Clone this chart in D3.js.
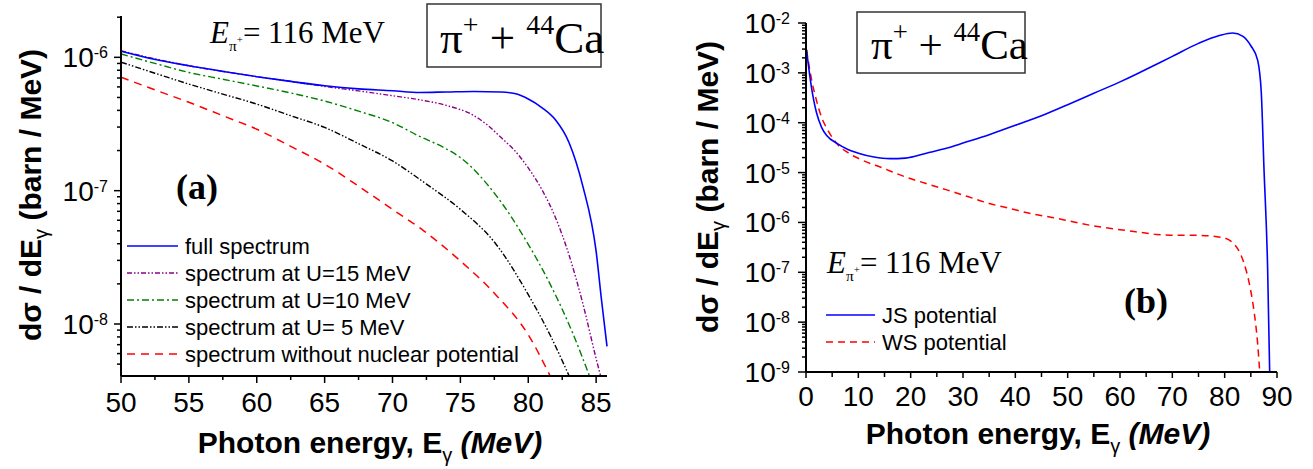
<!DOCTYPE html>
<html><head><meta charset="utf-8">
<script src="https://cdn.jsdelivr.net/npm/d3@7"></script>
<style>body{margin:0;background:#fff}svg{display:block}</style>
</head><body>
<svg id="c" width="1313" height="469"></svg>
<script>
// ---------- DATA (panel a) ----------
const fullE   = [50,52,55,57.5,60,62.5,65,67.5,70,72,74,76,78,79,80,81,82,83,84,85,85.4,85.8];
const fullV   = [1.11e-6,9.9e-7,8.65e-7,7.85e-7,7.16e-7,6.6e-7,6.12e-7,5.8e-7,5.62e-7,5.45e-7,5.5e-7,5.55e-7,5.5e-7,5.35e-7,4.87e-7,4.2e-7,3.4e-7,2.3e-7,1.1e-7,3.5e-8,1.5e-8,6.8e-9];
const u15E    = [50,52,55,57.5,60,62.5,65,67.5,70,72,74,76,77,78,79,80,81,82,83,84,85,85.35];
const u15V    = [1.12e-6,1.0e-6,8.65e-7,7.85e-7,7.16e-7,6.6e-7,6.05e-7,5.6e-7,5.15e-7,4.8e-7,4.35e-7,3.65e-7,3.1e-7,2.5e-7,2.0e-7,1.48e-7,1.02e-7,6.3e-8,3.3e-8,1.45e-8,5.5e-9,4.0e-9];
const u10E    = [50,52.5,55,57.5,60,62.5,65,67.5,70,72,73.8,75,77.6,80,81.6,83.2,84.5];
const u10V    = [1.06e-6,9.0e-7,7.7e-7,6.85e-7,6.1e-7,5.4e-7,4.7e-7,3.95e-7,3.24e-7,2.55e-7,2.1e-7,1.77e-7,9.3e-8,3.96e-8,2.0e-8,8.9e-9,4.1e-9];
const u5E     = [50,52.5,55,57.5,60,62.5,65,67.5,70,72.5,75,77.6,80,81.6,83.0];
const u5V     = [9.2e-7,7.6e-7,6.3e-7,5.3e-7,4.46e-7,3.65e-7,2.98e-7,2.25e-7,1.67e-7,1.12e-7,7.24e-8,4.0e-8,1.66e-8,8.3e-9,4.1e-9];
const noPotE  = [50,52.5,55,57.5,60,62.5,65,67.5,70,72.3,75,77.6,80,81.6];
const noPotV  = [7.1e-7,5.7e-7,4.6e-7,3.65e-7,2.89e-7,2.15e-7,1.58e-7,1.08e-7,7.24e-8,5.0e-8,2.97e-8,1.66e-8,8.3e-9,4.1e-9];
const legendA = ["full spectrum","spectrum at U=15 MeV","spectrum at U=10 MeV","spectrum at U= 5 MeV","spectrum without nuclear potential"];
const xTicksA = [50,55,60,65,70,75,80,85];
const yTicksA = [-6,-7,-8];

// ---------- DATA (panel b) ----------
const jsE = [0.1,1,2,3,4,6,8,10,13,16,19,23,27,30,35,40,45,50,55,60,63,66,70,75,79,81.5,83.5,85,86.3,87,87.5,88.2,88.6];
const jsV = [2.9e-3,5.5e-4,1.6e-4,8.0e-5,5.5e-5,3.8e-5,2.9e-5,2.45e-5,2.05e-5,1.9e-5,1.95e-5,2.45e-5,3.1e-5,3.9e-5,5.75e-5,8.9e-5,1.38e-4,2.3e-4,3.9e-4,6.6e-4,9.3e-4,1.33e-3,2.14e-3,3.9e-3,5.6e-3,6.3e-3,5.4e-3,3.5e-3,1.8e-3,4.0e-4,1.3e-5,1.3e-7,1.0e-9];
const wsE = [0.1,1,2,3,4,6,8,10.7,14.7,18.8,22.8,26.9,30.9,35,39,43,47,51,55,59,63,67,71,75,79.5,82,83.5,84.7,85.5,86.3,86.7];
const wsV = [2.9e-3,7.9e-4,2.8e-4,1.26e-4,7.6e-5,3.7e-5,2.5e-5,1.78e-5,1.23e-5,8.3e-6,6.1e-6,4.5e-6,3.3e-6,2.4e-6,1.9e-6,1.5e-6,1.26e-6,1.03e-6,8.5e-7,7.4e-7,6.5e-7,5.75e-7,5.5e-7,5.5e-7,5.0e-7,3.5e-7,1.74e-7,6.0e-8,2.0e-8,3.7e-9,1.0e-9];
const legendB = ["JS potential","WS potential"];
const xTicksB = [0,10,20,30,40,50,60,70,80,90];
const yTicksB = [-2,-3,-4,-5,-6,-7,-8,-9];

// ---------- DRAW ----------
const svg = d3.select("#c");
svg.append("rect").attr("width",1313).attr("height",469).attr("fill","#fff");
const SANS = "Liberation Sans, Arial, sans-serif";
const SERIF = "Liberation Serif, Times New Roman, serif";

function logAxisLeft(g, y, x0, decs, majLen, minLen, gap){
  const [d0,d1] = y.domain();
  const lo = Math.floor(Math.log10(d0)), hi = Math.ceil(Math.log10(d1));
  for(let e=lo;e<=hi;e++){
    for(let m=1;m<=9;m++){
      const v = m*Math.pow(10,e);
      if(v < d0*0.999 || v > d1*1.001) continue;
      const yy = y(v), L = m===1?majLen:minLen;
      g.append("line").attr("x1",x0-L).attr("x2",x0).attr("y1",yy).attr("y2",yy)
        .attr("stroke","#000").attr("stroke-width",1.5);
    }
  }
  decs.forEach(e=>{
    const yy = y(Math.pow(10,e));
    const t = g.append("text").attr("x",x0-gap).attr("y",yy+10).attr("text-anchor","end")
      .attr("font-family",SANS).attr("font-size",28).attr("fill","#000");
    t.append("tspan").text("10");
    t.append("tspan").attr("font-size",16).attr("dy",-9).text("-"+Math.abs(e));
  });
  g.append("line").attr("x1",x0).attr("x2",x0).attr("y1",y.range()[1]).attr("y2",y.range()[0])
    .attr("stroke","#000").attr("stroke-width",2);
}
function linAxisBottom(g, x, y0, majors, minors, majLen, minLen, base){
  minors.forEach(v=>{ g.append("line").attr("x1",x(v)).attr("x2",x(v)).attr("y1",y0).attr("y2",y0+minLen).attr("stroke","#000").attr("stroke-width",1.5); });
  majors.forEach(v=>{
    g.append("line").attr("x1",x(v)).attr("x2",x(v)).attr("y1",y0).attr("y2",y0+majLen).attr("stroke","#000").attr("stroke-width",1.5);
    g.append("text").attr("x",x(v)).attr("y",base).attr("text-anchor","middle")
      .attr("font-family",SANS).attr("font-size",28).attr("fill","#000").text(v);
  });
  g.append("line").attr("x1",x.range()[0]).attr("x2",x.range()[1]).attr("y1",y0).attr("y2",y0)
    .attr("stroke","#000").attr("stroke-width",2);
}
function yTitle(g, cx, cy){
  const t = g.append("text").attr("transform",`translate(${cx},${cy}) rotate(-90)`)
    .attr("text-anchor","middle").attr("font-family",SANS).attr("font-weight","bold")
    .attr("font-size",30).attr("fill","#000");
  t.append("tspan").text("dσ / dE");
  t.append("tspan").attr("font-size",20).attr("font-weight","normal").attr("dy",7).text("γ");
  t.append("tspan").attr("dy",-7).text(" (barn / MeV)");
}
function xTitle(g, cx, by){
  const t = g.append("text").attr("x",cx).attr("y",by).attr("text-anchor","middle")
    .attr("font-family",SANS).attr("font-weight","bold").attr("font-size",30).attr("fill","#000");
  t.append("tspan").text("Photon energy, E");
  t.append("tspan").attr("font-size",20).attr("font-weight","normal").attr("dy",9).text("γ");
  t.append("tspan").attr("dy",-9).text(" ");
  t.append("tspan").attr("font-style","italic").text("(MeV)");
}
function energyLabel(g, x, y, fs){
  const t = g.append("text").attr("x",x).attr("y",y).attr("font-family",SERIF)
    .attr("font-size",fs).attr("fill","#000");
  t.append("tspan").attr("font-style","italic").text("E");
  t.append("tspan").attr("font-size",fs*0.5).attr("dy",8).text("π");
  t.append("tspan").attr("font-size",fs*0.35).attr("dy",-8).text("+");
  t.append("tspan").text("= 116 MeV");
}
function reactionBox(g, x, y, w, h, tx, ty, fs){
  g.append("rect").attr("x",x).attr("y",y).attr("width",w).attr("height",h)
    .attr("fill","#fff").attr("stroke","#333").attr("stroke-width",1.5);
  const t = g.append("text").attr("x",tx).attr("y",ty).attr("font-family",SERIF)
    .attr("font-size",fs).attr("fill","#000");
  t.append("tspan").text("π");
  t.append("tspan").attr("font-size",fs*0.62).attr("dy",-fs*0.42).text("+");
  t.append("tspan").attr("dy",fs*0.42).text(" + ");
  t.append("tspan").attr("font-size",fs*0.62).attr("dy",-fs*0.42).text("44");
  t.append("tspan").attr("dy",fs*0.42).text("Ca");
}

// ===== Panel (a) =====
const gA = svg.append("g");
const xA = d3.scaleLinear().domain([50,85.8]).range([121,607]);
const yA = d3.scaleLog().domain([Math.pow(10,-8.39),Math.pow(10,-5.69)]).range([376,16]);
svg.append("clipPath").attr("id","clipA").append("rect").attr("x",121).attr("y",0).attr("width",490).attr("height",376);
const seriesA = [
  {E:fullE, V:fullV, c:"#0000ff", d:null, w:1.6},
  {E:u15E, V:u15V, c:"#8b008b", d:"5,2,1.5,2,1.5,2", w:1.4},
  {E:u10E, V:u10V, c:"#008000", d:"7,3,2,3", w:1.4},
  {E:u5E, V:u5V, c:"#000000", d:"6,2,1.5,2,1.5,2", w:1.4},
  {E:noPotE, V:noPotV, c:"#ff0000", d:"8,6", w:1.5}
];
const lineA = d3.line().x(d=>xA(d[0])).y(d=>yA(d[1])).curve(d3.curveMonotoneX);
const plotA = gA.append("g").attr("clip-path","url(#clipA)");
seriesA.slice().reverse().forEach(s=>{
  plotA.append("path").datum(s.E.map((e,i)=>[e,s.V[i]])).attr("d",lineA)
    .attr("fill","none").attr("stroke",s.c).attr("stroke-width",s.w)
    .attr("stroke-dasharray",s.d);
});
logAxisLeft(gA, yA, 121, yTicksA, 7, 4, 13);
linAxisBottom(gA, xA, 376, xTicksA, [52.5,57.5,62.5,67.5,72.5,77.5,82.5], 7, 4, 412);
yTitle(gA, 41, 195);
xTitle(gA, 370, 453);
energyLabel(gA, 210, 43, 31);
reactionBox(gA, 427, 4, 174, 63, 440, 53, 45);
gA.append("text").attr("x",197).attr("y",199).attr("text-anchor","middle")
  .attr("font-family",SERIF).attr("font-weight","bold").attr("font-size",36).text("(a)");
legendA.forEach((lab,i)=>{
  const yy = 246 + i*27, s = seriesA[i];
  gA.append("line").attr("x1",127).attr("x2",178).attr("y1",yy).attr("y2",yy)
    .attr("stroke",s.c).attr("stroke-width",s.w).attr("stroke-dasharray",s.d);
  gA.append("text").attr("x",185).attr("y",yy+8).attr("font-family",SANS)
    .attr("font-size",22).attr("fill","#000").text(lab);
});

// ===== Panel (b) =====
const gB = svg.append("g");
const xB = d3.scaleLinear().domain([0,90]).range([806,1277]);
const yB = d3.scaleLog().domain([1e-9,1e-2]).range([372,23]);
svg.append("clipPath").attr("id","clipB").append("rect").attr("x",806).attr("y",0).attr("width",475).attr("height",372);
const seriesB = [
  {E:jsE, V:jsV, c:"#0000ff", d:null, w:1.6},
  {E:wsE, V:wsV, c:"#ff0000", d:"7,5", w:1.5}
];
const lineB = d3.line().x(d=>xB(d[0])).y(d=>yB(d[1])).curve(d3.curveMonotoneX);
const plotB = gB.append("g").attr("clip-path","url(#clipB)");
seriesB.slice().reverse().forEach(s=>{
  plotB.append("path").datum(s.E.map((e,i)=>[e,s.V[i]])).attr("d",lineB)
    .attr("fill","none").attr("stroke",s.c).attr("stroke-width",s.w)
    .attr("stroke-dasharray",s.d);
});
logAxisLeft(gB, yB, 806, yTicksB, 8, 4, 16);
linAxisBottom(gB, xB, 372, xTicksB, [5,15,25,35,45,55,65,75,85], 6, 5, 406);
yTitle(gB, 718, 187);
xTitle(gB, 1038, 444);
energyLabel(gB, 827, 273, 31);
reactionBox(gB, 857, 12, 168, 61, 871, 59, 43);
gB.append("text").attr("x",1146).attr("y",313).attr("text-anchor","middle")
  .attr("font-family",SERIF).attr("font-weight","bold").attr("font-size",36).text("(b)");
legendB.forEach((lab,i)=>{
  const yy = 315 + i*27, s = seriesB[i];
  gB.append("line").attr("x1",826).attr("x2",875).attr("y1",yy).attr("y2",yy)
    .attr("stroke",s.c).attr("stroke-width",s.w).attr("stroke-dasharray",s.d);
  gB.append("text").attr("x",882).attr("y",yy+8).attr("font-family",SANS)
    .attr("font-size",22).attr("fill","#000").text(lab);
});
</script>
</body></html>
